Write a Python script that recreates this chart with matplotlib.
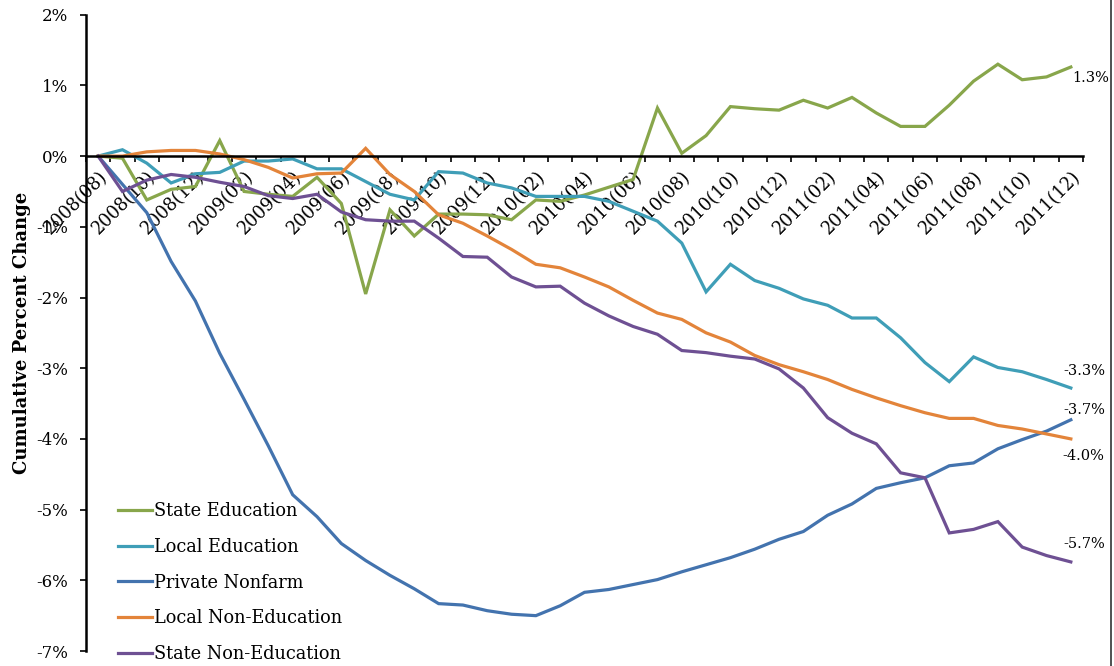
import numpy as np
import pandas as pd
import matplotlib
matplotlib.use("Agg")
import matplotlib.pyplot as plt
import matplotlib.transforms as mtransforms
from matplotlib.lines import Line2D
from matplotlib.ticker import FuncFormatter

plt.rcParams['font.family'] = ['DejaVu Serif']

# monthly observations, Aug 2008 .. Dec 2011
months = pd.period_range("2008-08", "2011-12", freq="M")
month_labels = [f"{p.year}({p.month:02d})" for p in months]

# cumulative percent change in employment since 2008(08)
state_edu = [0, -0.03, -0.62, -0.47, -0.43, 0.22, -0.50, -0.54, -0.57, -0.30, -0.67,
             -1.95, -0.76, -1.13, -0.82, -0.82, -0.83, -0.90, -0.62, -0.64, -0.55, -0.44, -0.33,
             0.68, 0.04, 0.29, 0.70, 0.67, 0.65, 0.79, 0.68, 0.83, 0.61, 0.42, 0.42, 0.72,
             1.06, 1.30, 1.08, 1.12, 1.26]
local_edu = [0, 0.09, -0.10, -0.38, -0.25, -0.23, -0.07, -0.07, -0.04, -0.18, -0.18,
             -0.36, -0.54, -0.62, -0.22, -0.24, -0.38, -0.45, -0.57, -0.57, -0.57, -0.64, -0.78,
             -0.92, -1.23, -1.92, -1.53, -1.76, -1.87, -2.02, -2.11, -2.29, -2.29, -2.57, -2.92,
             -3.19, -2.84, -2.99, -3.05, -3.16, -3.28]
private_nonfarm = [0, -0.40, -0.80, -1.49, -2.05, -2.79, -3.44, -4.10, -4.79, -5.10, -5.48,
                   -5.72, -5.93, -6.12, -6.33, -6.35, -6.43, -6.48, -6.50, -6.36, -6.17, -6.13, -6.06,
                   -5.99, -5.88, -5.78, -5.68, -5.56, -5.42, -5.31, -5.08, -4.92, -4.70, -4.62, -4.55,
                   -4.38, -4.34, -4.14, -4.01, -3.89, -3.73]
local_non_edu = [0, 0.00, 0.06, 0.08, 0.08, 0.03, -0.05, -0.16, -0.31, -0.25, -0.24,
                 0.11, -0.26, -0.50, -0.83, -0.95, -1.13, -1.32, -1.53, -1.58, -1.71, -1.85, -2.04,
                 -2.22, -2.31, -2.50, -2.63, -2.82, -2.95, -3.05, -3.16, -3.30, -3.42, -3.53, -3.63,
                 -3.71, -3.71, -3.81, -3.86, -3.93, -4.00]
state_non_edu = [0, -0.50, -0.34, -0.26, -0.30, -0.37, -0.43, -0.56, -0.60, -0.54, -0.79,
                 -0.90, -0.92, -0.92, -1.16, -1.42, -1.43, -1.71, -1.85, -1.84, -2.08, -2.26, -2.41,
                 -2.52, -2.75, -2.78, -2.83, -2.87, -3.01, -3.28, -3.70, -3.92, -4.07, -4.48, -4.55,
                 -5.33, -5.28, -5.17, -5.53, -5.65, -5.74]

series = [
    ("State Education", state_edu, "#88A64B", (1, -8)),
    ("Local Education", local_edu, "#3F9EB7", (10, 12)),
    ("Private Nonfarm", private_nonfarm, "#4373AE", (10, 7)),
    ("Local Non-Education", local_non_edu, "#E3843A", (9, -12)),
    ("State Non-Education", state_non_edu, "#6E5093", (10, 13)),
]

fig = plt.figure(figsize=(11.14, 6.66), dpi=100)
ax = fig.add_axes([86 / 1114, 1 - 651 / 666, (1083 - 86) / 1114, (651 - 14.7) / 666])

x = np.arange(len(months))
for name, vals, color, off in series:
    ax.plot(x, vals, color=color, lw=2.3, label=name, solid_joinstyle="miter")
    # value label at the last month
    last = vals[-1]
    ha = "left" if off[0] < 5 else "center"
    ax.annotate(f"{last:.1f}%", (x[-1], last), xytext=off, textcoords="offset points",
                ha=ha, va="center", fontsize=10.5)

ax.set_xlim(-0.5, len(months) - 0.5)
ax.set_ylim(-7, 2)

# category axis crosses at zero
ax.spines["bottom"].set_position(("data", 0))
ax.spines["top"].set_visible(False)
ax.spines["right"].set_visible(False)
for sp in ("left", "bottom"):
    ax.spines[sp].set_linewidth(1.8)

ax.set_xticks(x[::2])
ax.set_xticklabels(month_labels[::2], rotation=45, ha="right", rotation_mode="anchor",
                   fontsize=12.8)
shift = mtransforms.ScaledTranslation(5 / 100, -3 / 100, fig.dpi_scale_trans)
for lbl in ax.get_xticklabels():
    lbl.set_transform(lbl.get_transform() + shift)
ax.set_xticks(np.arange(-0.5, len(months), 1), minor=True)
ax.tick_params(axis="x", which="major", length=0, pad=8)
ax.tick_params(axis="x", which="minor", length=4, width=1.2, direction="out")

ax.set_yticks(np.arange(-7, 3, 1))
ax.yaxis.set_major_formatter(FuncFormatter(lambda v, p: f"{v:.0f}%"))
ax.tick_params(axis="y", length=4, width=1.2, direction="out", pad=9, labelsize=12)

ax.set_ylabel("Cumulative Percent Change", fontsize=13, fontweight="bold")
ax.yaxis.set_label_coords(-0.055, 0.5)

ax.legend(loc="upper left", bbox_to_anchor=(118 / 1114, 1 - 502 / 666),
          bbox_transform=fig.transFigure, frameon=False, fontsize=12.8,
          handlelength=1.9, handletextpad=0.15, labelspacing=1.0,
          borderpad=0, borderaxespad=0)

# thin frame edge on the right side
fig.add_artist(Line2D([1110.5 / 1114] * 2, [0, 1], transform=fig.transFigure,
                      color="#333333", lw=1.2))

fig.savefig("out.png", dpi=100)
